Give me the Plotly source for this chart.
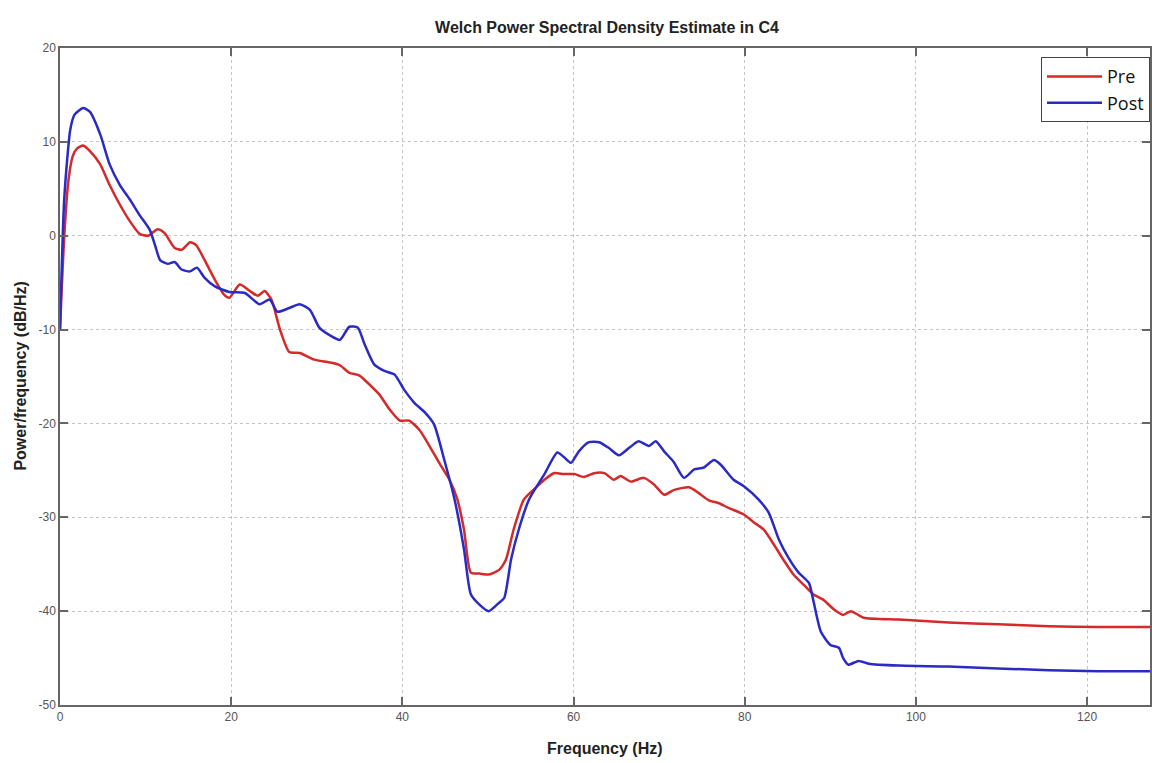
import plotly.graph_objects as go

# Pre (red) spectrum
pre_f = [0, 0.5, 1.0, 1.5, 2.0, 2.7, 3.5, 4.7, 5.8, 7.0, 8.2, 9.3, 10.3, 11.4, 12.2, 13.4, 14.2, 15.2, 15.9,
         16.9, 18.1, 19.2, 19.8, 21.0, 22.2, 23.1, 23.9, 24.7, 25.7, 26.8, 28.0, 29.7, 31.5, 32.7, 33.8, 35.0,
         36.2, 37.3, 38.5, 39.7, 40.8, 42.0, 43.1, 44.3, 45.5, 46.4, 47.2, 48.0, 49.0, 50.1, 51.3, 52.1, 53.0,
         54.2, 55.4, 56.6, 57.7, 58.9, 60.1, 61.2, 62.4, 63.6, 64.7, 65.5, 66.7, 68.2, 69.4, 70.6, 71.7, 73.5,
         74.6, 75.8, 77.0, 78.1, 79.9, 81.0, 82.2, 83.4, 84.5, 85.7, 86.9, 88.0, 89.2, 90.4, 91.5, 92.4, 93.9,
         98.0, 103.8, 109.6, 115.5, 121.3, 128.0]
pre_db = [-10, 0.0, 6.0, 8.5, 9.3, 9.6, 9.0, 7.6, 5.4, 3.3, 1.5, 0.2, 0.0, 0.7, 0.3, -1.3, -1.5, -0.7, -1.0,
          -2.6, -4.7, -6.3, -6.6, -5.2, -5.9, -6.4, -5.9, -6.8, -10.0, -12.4, -12.5, -13.2, -13.5, -13.8, -14.6, -14.9,
          -15.9, -16.9, -18.5, -19.7, -19.7, -20.7, -22.3, -24.2, -26.0, -28.0, -31.3, -35.9, -36.0, -36.1, -35.6, -34.5, -31.3,
          -28.1, -27.0, -26.0, -25.3, -25.4, -25.4, -25.7, -25.3, -25.3, -26.0, -25.6, -26.2, -25.8, -26.5, -27.6, -27.1, -26.8,
          -27.4, -28.2, -28.5, -29.0, -29.7, -30.5, -31.3, -32.9, -34.5, -36.1, -37.2, -38.2, -38.8, -39.8, -40.4, -40.0, -40.7,
          -40.9, -41.2, -41.4, -41.6, -41.7, -41.7]

# Post (blue) spectrum
post_f = [0, 0.5, 1.2, 1.7, 2.7, 3.5, 4.7, 5.8, 7.0, 8.2, 9.3, 10.5, 11.1, 11.7, 12.6, 13.4, 14.2, 15.2, 16.0,
          16.9, 18.1, 19.8, 21.6, 23.3, 24.5, 25.4, 26.8, 28.0, 29.2, 30.3, 31.5, 32.7, 33.8, 34.8, 35.6, 36.7,
          37.9, 39.1, 40.2, 41.4, 42.6, 43.7, 44.9, 46.1, 47.2, 48.0, 49.0, 50.1, 51.3, 51.9, 52.7, 53.6, 54.8,
          56.6, 58.1, 58.9, 59.7, 60.6, 61.8, 63.0, 64.1, 65.3, 66.5, 67.6, 68.8, 69.6, 70.6, 71.7, 72.9, 74.1,
          75.2, 76.4, 77.2, 78.7, 79.9, 81.6, 82.8, 84.0, 85.1, 86.3, 87.5, 88.0, 88.9, 90.0, 91.0, 91.5, 92.1,
          93.3, 94.5, 98.0, 103.8, 109.6, 115.5, 121.3, 128.0]
post_db = [-10, 4.0, 11.3, 12.9, 13.6, 13.2, 10.8, 7.6, 5.4, 3.8, 2.2, 0.6, -1.0, -2.6, -3.0, -2.8, -3.6, -3.8, -3.4,
           -4.5, -5.4, -6.0, -6.1, -7.3, -6.8, -8.1, -7.7, -7.3, -7.9, -9.8, -10.6, -11.1, -9.7, -9.8, -11.6, -13.7,
           -14.4, -14.8, -16.4, -17.8, -18.8, -20.1, -23.9, -28.1, -33.4, -38.2, -39.3, -40.0, -39.1, -38.6, -34.5, -31.3, -28.1,
           -25.4, -23.1, -23.6, -24.2, -23.0, -22.0, -22.0, -22.6, -23.4, -22.6, -21.9, -22.4, -21.9, -23.0, -24.1, -25.8, -24.9,
           -24.7, -23.9, -24.4, -26.0, -26.7, -28.1, -29.5, -32.4, -34.3, -35.9, -37.0, -38.8, -42.2, -43.6, -43.9, -45.0, -45.7,
           -45.3, -45.6, -45.8, -45.9, -46.1, -46.3, -46.4, -46.4]

x_ticks = [0, 20, 40, 60, 80, 100, 120]
x_labels = ["0", "20", "40", "60", "80", "100", "120"]
y_ticks = [20, 10, 0, -10, -20, -30, -40, -50]
y_labels = ["20", "10", "0", "-10", "-20", "-30", "-40", "-50"]

fig = go.Figure()
fig.add_trace(go.Scatter(x=pre_f, y=pre_db, mode="lines", name="Pre",
                         line=dict(color="#d42a2a", width=2.5, shape="spline", smoothing=0.6)))
fig.add_trace(go.Scatter(x=post_f, y=post_db, mode="lines", name="Post",
                         line=dict(color="#2a2ac4", width=2.5, shape="spline", smoothing=0.6)))

axis_common = dict(showline=True, linecolor="#666", linewidth=1.5, mirror="allticks",
                   ticks="inside", ticklen=8, tickcolor="#666", tickwidth=1.5,
                   showgrid=True, gridcolor="#c4c4c4", griddash="dot", gridwidth=1,
                   zeroline=False,
                   tickfont=dict(family="Liberation Sans Narrow, Liberation Sans, Arial", size=12, color="#555"))

fig.update_xaxes(range=[0, 127.35], tickvals=x_ticks, ticktext=x_labels, **axis_common)
fig.update_yaxes(range=[-50, 20], tickvals=y_ticks, ticktext=y_labels, **axis_common)

W, H = 1152, 763
fig.update_layout(
    width=W, height=H,
    margin=dict(l=60, r=0, t=48, b=58),
    plot_bgcolor="white", paper_bgcolor="white",
    title=dict(text="<b>Welch Power Spectral Density Estimate in C4</b>",
               x=607 / W, xanchor="center", y=1 - 27 / H, yanchor="middle",
               font=dict(family="Liberation Sans, Arial", size=16, color="#222")),
    legend=dict(x=0.9, xanchor="left", y=0.986, yanchor="top",
                bordercolor="#444", borderwidth=1, bgcolor="white",
                font=dict(family="Open Sans, Noto Sans", size=18, color="#111"),
                itemwidth=55, tracegroupgap=0),
    showlegend=True,
    annotations=[
        dict(text="<b>Frequency (Hz)</b>", xref="paper", yref="paper", x=0.5, y=-(748 - 705) / 657,
             xanchor="center", yanchor="middle", showarrow=False,
             font=dict(family="Liberation Sans, Arial", size=16, color="#222")),
        dict(text="<b>Power/frequency (dB/Hz)</b>", xref="paper", yref="paper", x=-(60 - 20) / 1092, y=0.5,
             xanchor="center", yanchor="middle", showarrow=False, textangle=-90,
             font=dict(family="Liberation Sans, Arial", size=16, color="#222")),
    ],
)

fig.write_html("out.html", config={"displayModeBar": False},
               post_script="document.body.style.margin='0';document.body.style.overflow='hidden';")
